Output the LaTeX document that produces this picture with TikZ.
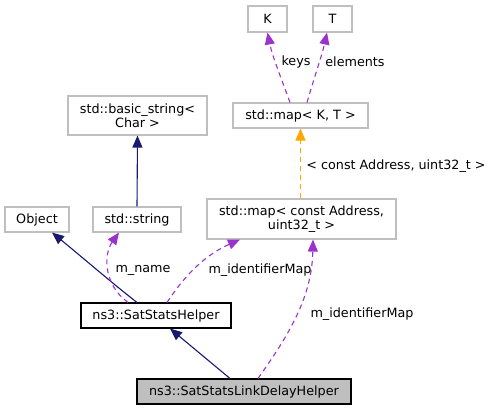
\documentclass[tikz,border=0pt]{standalone}
\usepackage{fontspec}
\setmainfont{DejaVu Sans}
\usetikzlibrary{arrows.meta}
\definecolor{boxgrey}{HTML}{BFBFBF}
\definecolor{fillgrey}{HTML}{BFBFBF}
\definecolor{navy}{HTML}{191970}
\definecolor{purp}{HTML}{9A32CD}
\definecolor{orng}{HTML}{FFA500}
\tikzset{
  cls/.style={draw=boxgrey, line width=1.1bp, inner sep=0pt, align=center,
    font=\fontsize{12.8}{14.3}\selectfont},
  clsblack/.style={cls, draw=black},
  lbl/.style={inner sep=0pt, font=\fontsize{12.8}{14.3}\selectfont},
  inh/.style={draw=navy, line width=1.1bp, -{Triangle[length=12bp,width=10bp]}},
  use/.style={draw=purp, line width=1.1bp, dash pattern=on 5bp off 4bp, -{Triangle[length=12bp,width=10bp,fill=purp]}},
  tmpl/.style={draw=orng, line width=1.1bp, dash pattern=on 5bp off 4bp, -{Triangle[length=12bp,width=10bp,fill=orng]}},
}
\begin{document}
\begin{tikzpicture}[x=1bp,y=-1bp]
\useasboundingbox (0,0) rectangle (493,411);
\node[cls, minimum width=39bp, minimum height=26bp] (K) at (267.5,19) {K};
\node[cls, minimum width=39bp, minimum height=26bp] (T) at (332.5,19) {T};
\node[cls, minimum width=135bp, minimum height=25bp] (mapKT) at (300.5,115.5) {std::map< K, T >};
\node[cls, minimum width=139bp, minimum height=39bp] (bstr) at (137.5,115.5) {std::basic\_string<\\Char >};
\node[cls, minimum width=64bp, minimum height=25bp] (Object) at (37,219.5) {Object};
\node[cls, minimum width=88bp, minimum height=25bp] (string) at (137,219.5) {std::string};
\node[cls, minimum width=189bp, minimum height=40bp] (mapCA) at (301.5,219) {std::map< const Address,\\uint32\_t >};
\node[clsblack, minimum width=150bp, minimum height=25bp] (helper) at (156,315.5) {ns3::SatStatsHelper};
\node[clsblack, fill=fillgrey, minimum width=214bp, minimum height=25bp] (link) at (244,391.5) {ns3::SatStatsLinkDelayHelper};

% inheritance
\draw[inh] (string.north) -- (bstr.south);
\draw[inh] ([xshift=-19bp]helper.north) .. controls (112,283) and (82,257) .. ([xshift=15bp]Object.south);
\draw[inh] ([xshift=-14bp]link.north) -- ([xshift=14bp]helper.south);
% usage
\draw[use] ([xshift=-28bp]helper.north) .. controls (104,285) and (103,255) .. ([xshift=-18bp]string.south);
\draw[use] ([xshift=11bp]helper.north) .. controls (185,275) and (205,255) .. ([xshift=-61.5bp]mapCA.south);
\draw[use] ([xshift=14bp]link.north) .. controls (285,340) and (312,300) .. ([xshift=11.5bp]mapCA.south);
\draw[use] ([xshift=-10.5bp]mapKT.north) .. controls (280,75) and (272,55) .. (K.south);
\draw[use] ([xshift=6.5bp]mapKT.north) .. controls (315,75) and (322,55) .. ([xshift=-5.5bp]T.south);
% template
\draw[tmpl] (mapCA.north -| mapKT.south) -- (mapKT.south);

% labels
\node[lbl] (lkeys) at (296,62) {keys};
\node[lbl] (lelem) at (355,62) {elements};
\node[lbl] (ltmpl) at (396,166) {< const Address, uint32\_t >};
\node[lbl] (lname) at (143,270) {m\_name};
\node[lbl] (lid1) at (260,270) {m\_identifierMap};
\node[lbl] (lid2) at (362,314) {m\_identifierMap};
\end{tikzpicture}
\end{document}
